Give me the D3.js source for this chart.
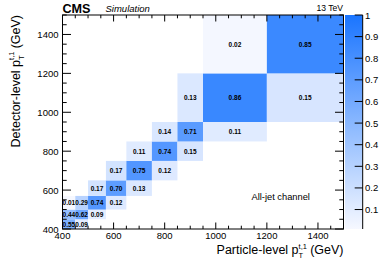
<!DOCTYPE html>
<html><head><meta charset="utf-8">
<script src="https://cdn.jsdelivr.net/npm/d3@7"></script>
<style>
html,body{margin:0;padding:0;background:#fff;}
text{font-family:"Liberation Sans",Arial,Helvetica,sans-serif;fill:#000;}
</style></head>
<body><svg id="c" width="390" height="264"></svg>
<script>
// ---- data ----
const binEdges = [400, 450, 500, 570, 650, 750, 850, 950, 1200, 1500];
// rows: detector-level bins (bottom to top); columns: particle-level bins (left to right)
const responseMatrix = [
  [0.55, 0.09, null, null, null, null, null, null, null],
  [0.44, 0.62, 0.09, null, null, null, null, null, null],
  [0.01, 0.29, 0.74, 0.12, null, null, null, null, null],
  [null, null, 0.17, 0.70, 0.13, null, null, null, null],
  [null, null, null, 0.17, 0.75, 0.12, null, null, null],
  [null, null, null, null, 0.11, 0.74, 0.15, null, null],
  [null, null, null, null, null, 0.14, 0.71, 0.11, null],
  [null, null, null, null, null, null, 0.13, 0.86, 0.15],
  [null, null, null, null, null, null, null, 0.02, 0.85]
];
const axisMajorTicks = [400, 600, 800, 1000, 1200, 1400];
const colorbarTicks = [0.1, 0.2, 0.3, 0.4, 0.5, 0.6, 0.7, 0.8, 0.9, 1];
const colorbarLabels = ["0.1","0.2","0.3","0.4","0.5","0.6","0.7","0.8","0.9","1"];

// ---- layout ----
const L = 62.5, R = 343.5, T = 15, B = 229;
const svg = d3.select("#c");
const x = d3.scaleLinear().domain([400, 1500]).range([L, R]);
const y = d3.scaleLinear().domain([400, 1500]).range([B, T]);
const zMin = 0.01, zMax = 1;
const color = d3.scaleLinear().domain([zMin, zMax]).range(["#f6f8ff", "#1a75ff"]).clamp(true);

// cells
const cells = [];
responseMatrix.forEach((row, j) => row.forEach((v, i) => { if (v !== null) cells.push({i, j, v}); }));
const g = svg.append("g");
g.selectAll("rect.cell").data(cells).enter().append("rect")
  .attr("x", d => x(binEdges[d.i]))
  .attr("y", d => y(binEdges[d.j + 1]))
  .attr("width", d => x(binEdges[d.i + 1]) - x(binEdges[d.i]))
  .attr("height", d => y(binEdges[d.j]) - y(binEdges[d.j + 1]))
  .attr("fill", d => color(d.v));
g.selectAll("text.cell").data(cells).enter().append("text")
  .attr("x", d => (x(binEdges[d.i]) + x(binEdges[d.i + 1])) / 2)
  .attr("y", d => (y(binEdges[d.j]) + y(binEdges[d.j + 1])) / 2)
  .attr("text-anchor", "middle").attr("dominant-baseline", "central")
  .attr("font-size", 6.5).attr("font-weight", "bold")
  .text(d => d.v.toFixed(2));

// frame
svg.append("rect").attr("x", L).attr("y", T).attr("width", R - L).attr("height", B - T)
  .attr("fill", "none").attr("stroke", "#000").attr("stroke-width", 1);

// ticks
const minor = d3.range(400, 1501, 50);
const tk = svg.append("g").attr("stroke", "#000").attr("stroke-width", 1);
minor.forEach(v => {
  const major = axisMajorTicks.includes(v);
  const lx = major ? 6.5 : 3.3, ly = major ? 8.5 : 4.2;
  // bottom & top
  tk.append("line").attr("x1", x(v)).attr("x2", x(v)).attr("y1", B).attr("y2", B - lx);
  tk.append("line").attr("x1", x(v)).attr("x2", x(v)).attr("y1", T).attr("y2", T + lx);
  // left & right
  tk.append("line").attr("y1", y(v)).attr("y2", y(v)).attr("x1", L).attr("x2", L + ly);
  tk.append("line").attr("y1", y(v)).attr("y2", y(v)).attr("x1", R).attr("x2", R - ly);
});
// tick labels
svg.selectAll("text.xl").data(axisMajorTicks).enter().append("text")
  .attr("x", d => x(d)).attr("y", 239).attr("text-anchor", "middle")
  .attr("font-size", 9.5).text(d => d);
svg.selectAll("text.yl").data(axisMajorTicks).enter().append("text")
  .attr("x", 58.5).attr("y", d => y(d)).attr("text-anchor", "end").attr("dominant-baseline", "central")
  .attr("font-size", 9.5).text(d => d);

// axis titles
const xt = svg.append("text").attr("x", R).attr("y", 254).attr("text-anchor", "end").attr("font-size", 12.5);
xt.append("tspan").text("Particle-level p");
xt.append("tspan").attr("font-size", 7.5).attr("dy", -5.5).text("t,1");
xt.append("tspan").attr("font-size", 7.5).attr("dx", -8.3).attr("dy", 9.5).text("T");
xt.append("tspan").attr("dx", 3.5).attr("dy", -4).text(" (GeV)");

const yt = svg.append("text").attr("transform", `translate(19.5,${T}) rotate(-90)`)
  .attr("text-anchor", "end").attr("font-size", 12.5);
yt.append("tspan").text("Detector-level p");
yt.append("tspan").attr("font-size", 7.5).attr("dy", -5.5).text("t,1");
yt.append("tspan").attr("font-size", 7.5).attr("dx", -8.3).attr("dy", 9.5).text("T");
yt.append("tspan").attr("dx", 3.5).attr("dy", -4).text(" (GeV)");

// header
svg.append("text").attr("x", L).attr("y", 13).attr("font-size", 12.6).attr("font-weight", "bold").text("CMS");
svg.append("text").attr("x", 105.5).attr("y", 12).attr("font-size", 9.5).attr("font-style", "italic").text("Simulation");
svg.append("text").attr("x", R - 0.5).attr("y", 11).attr("text-anchor", "end").attr("font-size", 8.6).text("13 TeV");
svg.append("text").attr("x", 251.5).attr("y", 200).attr("font-size", 9.3).text("All-jet channel");

// colorbar
const cbX0 = 345, cbX1 = 362.7;
const cy = d3.scaleLinear().domain([zMin, zMax]).range([B, T]);
const defs = svg.append("defs");
const grad = defs.append("linearGradient").attr("id", "cbg").attr("x1", 0).attr("y1", 1).attr("x2", 0).attr("y2", 0);
d3.range(0, 1.0001, 0.1).forEach(t => {
  grad.append("stop").attr("offset", t).attr("stop-color", color(zMin + t * (zMax - zMin)));
});
svg.append("rect").attr("x", cbX0).attr("y", T).attr("width", cbX1 - cbX0).attr("height", B - T).attr("fill", "url(#cbg)");
svg.append("line").attr("x1", cbX1).attr("x2", cbX1).attr("y1", T).attr("y2", B).attr("stroke", "#000");
svg.selectAll("line.cbt").data(colorbarTicks).enter().append("line")
  .attr("x1", cbX1 - 8).attr("x2", cbX1).attr("y1", d => cy(d)).attr("y2", d => cy(d)).attr("stroke", "#000");
svg.selectAll("text.cbl").data(colorbarTicks).enter().append("text")
  .attr("x", 365).attr("y", d => cy(d)).attr("dominant-baseline", "central")
  .attr("font-size", 9.5).text((d, i) => colorbarLabels[i]);
</script></body></html>
